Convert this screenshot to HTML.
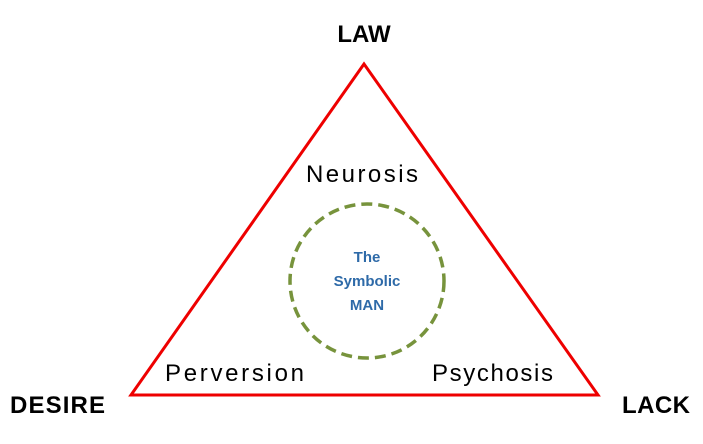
<!DOCTYPE html>
<html><head><meta charset="utf-8"><style>
html,body{margin:0;padding:0;background:#fff;width:703px;height:444px;overflow:hidden}
svg{display:block}
text{font-family:"Liberation Sans",sans-serif}
</style></head><body>
<svg width="703" height="444" viewBox="0 0 703 444" xmlns="http://www.w3.org/2000/svg">
<polygon points="364,64 131,395 598,395" fill="none" stroke="#ee0000" stroke-width="3" stroke-linejoin="miter"/>
<circle cx="367" cy="281" r="77" fill="none" stroke="#77933c" stroke-width="3.5" stroke-dasharray="11,6"/>
<text x="364" y="42" font-size="24" font-weight="bold" text-anchor="middle" fill="#000">LAW</text>
<text x="10" y="413" font-size="24" font-weight="bold" fill="#000" textLength="95">DESIRE</text>
<text x="622" y="413" font-size="24" font-weight="bold" fill="#000" textLength="68">LACK</text>
<text x="362" y="182" font-size="24" text-anchor="middle" fill="#000" textLength="112">Neurosis</text>
<text x="165" y="381" font-size="24" fill="#000" textLength="139">Perversion</text>
<text x="432" y="381" font-size="24" fill="#000" textLength="121">Psychosis</text>
<g font-size="15" font-weight="bold" fill="#2e6aa8" text-anchor="middle">
<text x="367" y="262">The</text>
<text x="367" y="286">Symbolic</text>
<text x="367" y="310">MAN</text>
</g>
</svg>
</body></html>
